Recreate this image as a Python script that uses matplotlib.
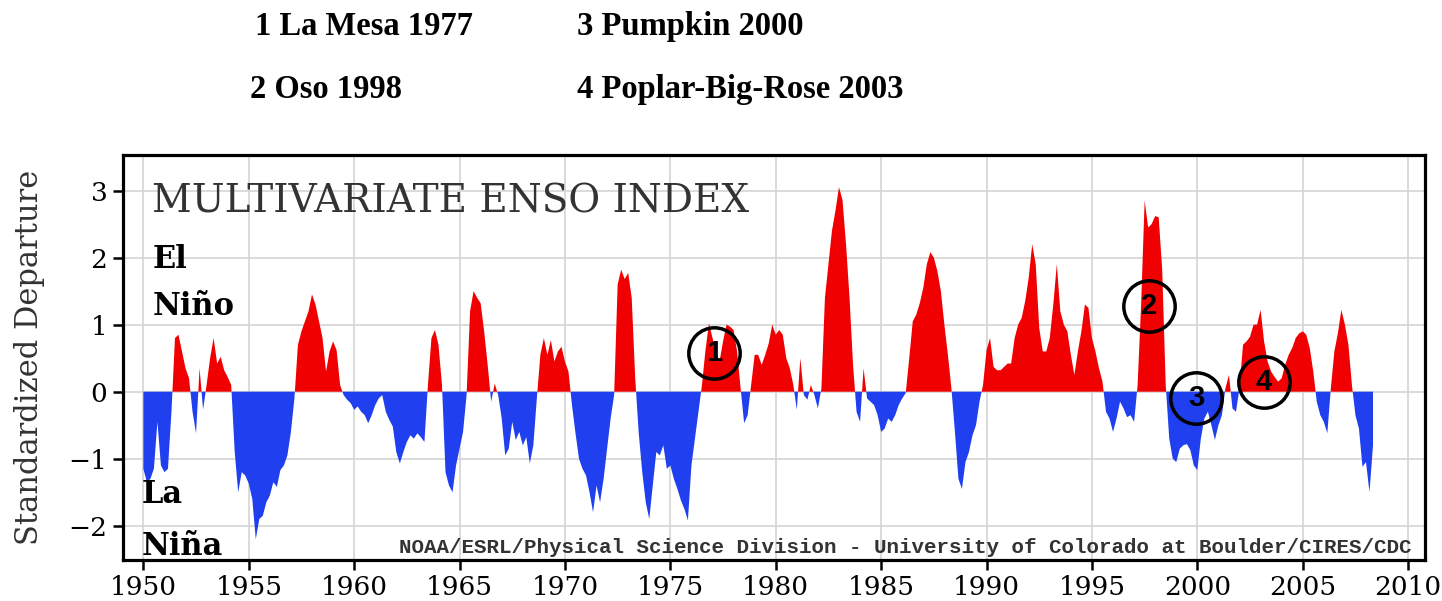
import numpy as np
import matplotlib
matplotlib.use("Agg")
import matplotlib.pyplot as plt

# bimonthly MEI values, six per year starting 1950.0
mei_1950s = [-1.15, -1.35, -1.3, -1.15, -0.45, -1.1,
             -1.2, -1.15, -0.3, 0.8, 0.85, 0.6,
             0.35, 0.2, -0.3, -0.62, 0.35, -0.27,
             0.1, 0.5, 0.8, 0.42, 0.52, 0.32,
             0.22, 0.1, -0.9, -1.5, -1.2, -1.25,
             -1.37, -1.6, -2.2, -1.9, -1.85, -1.65,
             -1.55, -1.35, -1.42, -1.17, -1.1, -0.95,
             -0.6, -0.1, 0.7, 0.9, 1.05, 1.2,
             1.45, 1.3, 1.05, 0.8, 0.3, 0.6,
             0.75, 0.62, 0.1, -0.05, -0.12, -0.17]
mei_1960s = [-0.27, -0.22, -0.3, -0.35, -0.47, -0.35,
             -0.2, -0.1, -0.05, -0.3, -0.42, -0.52,
             -0.9, -1.07, -0.9, -0.75, -0.65, -0.7,
             -0.62, -0.68, -0.75, 0.1, 0.8, 0.92,
             0.7, 0.1, -1.2, -1.4, -1.5, -1.1,
             -0.85, -0.6, -0.05, 1.2, 1.5, 1.4,
             1.32, 0.9, 0.4, -0.15, 0.12, -0.05,
             -0.4, -0.95, -0.85, -0.45, -0.72, -0.6,
             -0.8, -0.68, -1.07, -0.8, -0.1, 0.55,
             0.8, 0.55, 0.77, 0.45, 0.6, 0.67]
mei_1970s = [0.45, 0.3, -0.2, -0.62, -1.0, -1.15,
             -1.25, -1.5, -1.8, -1.4, -1.65, -1.3,
             -0.85, -0.4, -0.05, 1.6, 1.82, 1.68,
             1.77, 1.4, 0.2, -0.62, -1.2, -1.65,
             -1.9, -1.4, -0.9, -0.95, -0.8, -1.15,
             -1.1, -1.3, -1.45, -1.62, -1.75, -1.92,
             -1.1, -0.7, -0.3, 0.1, 0.62, 1.02,
             0.8, 0.6, 0.45, 0.75, 1.0, 0.97,
             0.92, 0.6, 0.05, -0.47, -0.35, 0.1,
             0.55, 0.55, 0.4, 0.55, 0.72, 1.0]
mei_1980s = [0.85, 0.92, 0.85, 0.5, 0.35, 0.1,
             -0.27, 0.5, -0.05, -0.12, 0.1, -0.05,
             -0.25, 0.05, 1.4, 1.9, 2.4, 2.7,
             3.05, 2.86, 2.2, 1.4, 0.4, -0.3,
             -0.45, 0.35, -0.1, -0.15, -0.2, -0.35,
             -0.6, -0.55, -0.4, -0.45, -0.35, -0.2,
             -0.1, -0.02, 0.5, 1.05, 1.15, 1.32,
             1.55, 1.9, 2.08, 2.0, 1.8, 1.5,
             1.0, 0.55, 0.05, -0.6, -1.3, -1.45,
             -1.05, -0.9, -0.65, -0.5, -0.15, 0.1]
mei_1990s = [0.62, 0.8, 0.37, 0.32, 0.32, 0.37,
             0.42, 0.42, 0.8, 1.0, 1.1, 1.35,
             1.7, 2.2, 1.9, 0.95, 0.6, 0.6,
             0.8, 1.3, 1.9, 1.2, 1.0, 0.9,
             0.55, 0.25, 0.6, 0.9, 1.3, 1.25,
             0.8, 0.6, 0.35, 0.15, -0.3, -0.4,
             -0.6, -0.4, -0.15, -0.25, -0.38, -0.35,
             -0.45, 0.1, 1.3, 2.85, 2.45, 2.5,
             2.62, 2.6, 1.82, 0.1, -0.7, -1.0,
             -1.05, -0.85, -0.8, -0.78, -0.87, -1.1]
mei_2000s = [-1.17, -0.7, -0.4, -0.3, -0.5, -0.72,
             -0.5, -0.35, 0.05, 0.25, -0.25, -0.3,
             0.05, 0.7, 0.75, 0.82, 1.0, 1.0,
             1.22, 0.75, 0.45, 0.3, 0.22, 0.15,
             0.2, 0.4, 0.55, 0.65, 0.8, 0.87,
             0.9, 0.85, 0.65, 0.3, -0.15, -0.35,
             -0.45, -0.62, 0.05, 0.6, 0.87, 1.22,
             1.0, 0.7, 0.1, -0.35, -0.55, -1.12,
             -1.05, -1.5, -0.8]
start_year = 1950
per_year = 6

fire_labels = ["1", "2", "3", "4"]
fire_names = ["1 La Mesa 1977", "2 Oso 1998", "3 Pumpkin 2000", "4 Poplar-Big-Rose 2003"]
circle_x = [1977.07, 1997.71, 1999.94, 2003.16]
circle_y = [0.58, 1.28, -0.09, 0.145]

mei = np.array(mei_1950s + mei_1960s + mei_1970s + mei_1980s + mei_1990s + mei_2000s)
years = start_year + np.arange(len(mei)) / per_year

plt.rcParams["font.family"] = "DejaVu Serif"

fig = plt.figure(figsize=(14.42, 6.01), dpi=100)
ax = fig.add_axes([122.7 / 1442, 41 / 601, 1302.3 / 1442, 405 / 601])

ax.fill_between(years, mei, 0, where=mei >= 0, interpolate=True,
                color="#f00000", lw=0, zorder=2)
ax.fill_between(years, mei, 0, where=mei <= 0, interpolate=True,
                color="#2040f0", lw=0, zorder=2)

ax.set_xlim(1949.02, 2010.8)
ax.set_ylim(-2.51, 3.53)
ax.set_xticks(np.arange(1950, 2011, 5))
ax.set_yticks([-2, -1, 0, 1, 2, 3])
ax.grid(color="#d4d4d4", lw=1.2)
ax.set_axisbelow(True)
ax.tick_params(direction="out", length=7, width=1.8, labelsize=19, pad=4)
for s in ax.spines.values():
    s.set_linewidth(2.3)
    s.set_color("black")

ax.set_ylabel("Standardized Departure", fontsize=22, color="#333333")
ax.yaxis.set_label_coords(-0.06, 0.5)

ax.text(0.0225, 0.859, "MULTIVARIATE ENSO INDEX", transform=ax.transAxes,
        fontsize=28, color="#333333", va="baseline")
ax.text(0.0233, 0.721, "El", transform=ax.transAxes, fontsize=22,
        fontweight="bold", va="baseline")
ax.text(0.0233, 0.605, "Niño", transform=ax.transAxes, fontsize=22,
        fontweight="bold", va="baseline")
ax.text(0.0148, 0.141, "La", transform=ax.transAxes, fontsize=22,
        fontweight="bold", va="baseline")
ax.text(0.0148, 0.012, "Niña", transform=ax.transAxes, fontsize=22,
        fontweight="bold", va="baseline")
ax.text(0.990, 0.017,
        "NOAA/ESRL/Physical Science Division - University of Colorado at Boulder/CIRES/CDC",
        transform=ax.transAxes, fontsize=15, family="Liberation Mono",
        fontweight="bold", color="#333333", ha="right", va="baseline")

ax.plot(circle_x, circle_y, "o", ms=37, mfc="none", mec="black", mew=2.5, zorder=4)
for cx, cy, lab in zip(circle_x, circle_y, fire_labels):
    ax.text(cx, cy, lab, ha="center", va="center", fontsize=21,
            fontweight="bold", family="Liberation Sans", zorder=5)

name_pos = [(255, 35), (250, 98), (577, 35), (577, 98)]
for name, (px, py) in zip(fire_names, name_pos):
    fig.text(px / 1442, 1 - py / 601, name, fontsize=23.5, fontweight="bold",
             family="Liberation Serif", va="baseline")

fig.savefig("out.png", dpi=100)
